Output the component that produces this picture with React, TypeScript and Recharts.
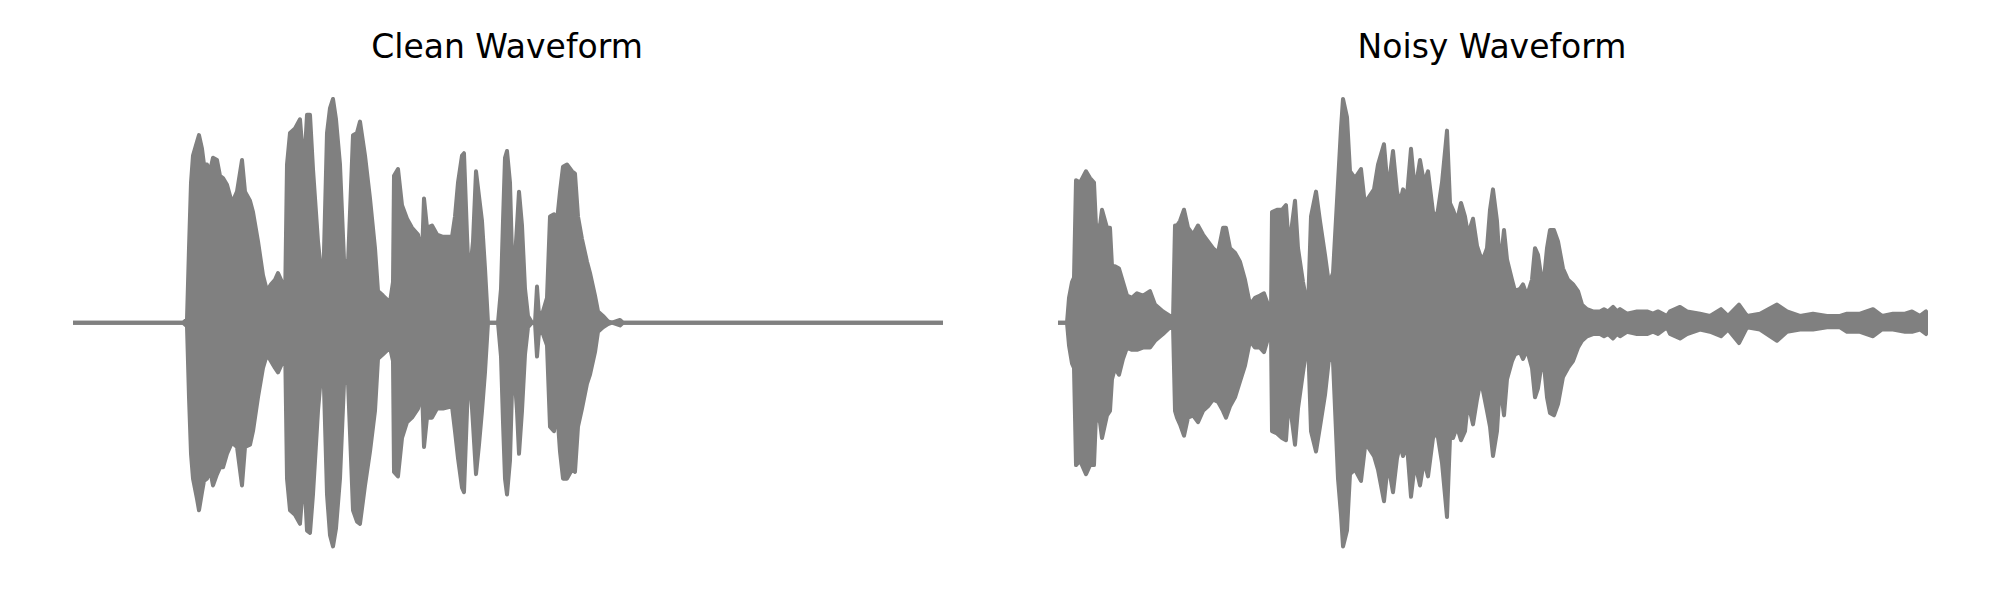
import React from 'react';
import { AreaChart, Area, XAxis, YAxis } from 'recharts';

// time index (frames) and envelope (normalized amplitude)
const cleanTime = [0,110,114,116,118,120,124,126,129,131,134,137,140,144,147,150,154,159,164,169,172,177,180,185,190,194,198,202,205,209,212,214,217,222,227,231,234,237,240,245,250,254,257,260,263,267,271,275,280,284,287,292,297,302,305,310,317,320,321,325,329,334,339,345,349,351,354,359,364,370,379,382,385,389,391,394,396,400,403,406,409,412,415,425,428,430,432,434,437,440,444,446,449,452,455,459,462,464,466,470,474,477,481,484,487,490,494,499,502,505,509,514,517,522,525,530,535,539,547,550,870];
const cleanUpper = [0,0,0.015,0.33,0.62,0.74,0.8,0.83,0.77,0.7,0.7,0.67,0.73,0.72,0.65,0.64,0.61,0.53,0.58,0.72,0.58,0.54,0.49,0.36,0.21,0.14,0.17,0.19,0.22,0.18,0.08,0.7,0.84,0.86,0.9,0.68,0.92,0.92,0.68,0.36,0.14,0.84,0.95,0.99,0.9,0.7,0.28,0.26,0.83,0.84,0.89,0.74,0.55,0.33,0.14,0.12,0.09,0.18,0.65,0.68,0.52,0.46,0.42,0.39,0.3,0.55,0.42,0.43,0.39,0.38,0.38,0.47,0.62,0.74,0.75,0.39,0.18,0.36,0.67,0.56,0.45,0.24,0,0,0.15,0.45,0.73,0.76,0.62,0.14,0.43,0.58,0.43,0.15,0.03,0,0,0.16,0.03,0.05,0.11,0.47,0.48,0.45,0.58,0.69,0.7,0.67,0.66,0.47,0.37,0.27,0.22,0.12,0.05,0.03,0.006,0,0.012,0,0];
const cleanLower = [0,0,-0.016,-0.33,-0.58,-0.69,-0.78,-0.83,-0.75,-0.7,-0.69,-0.65,-0.72,-0.67,-0.64,-0.64,-0.58,-0.53,-0.55,-0.72,-0.55,-0.54,-0.48,-0.33,-0.2,-0.14,-0.17,-0.2,-0.22,-0.18,-0.07,-0.69,-0.83,-0.85,-0.89,-0.66,-0.92,-0.93,-0.76,-0.39,-0.13,-0.76,-0.94,-0.99,-0.91,-0.69,-0.27,-0.26,-0.83,-0.88,-0.89,-0.72,-0.57,-0.39,-0.16,-0.14,-0.11,-0.17,-0.66,-0.68,-0.51,-0.44,-0.42,-0.38,-0.3,-0.55,-0.42,-0.42,-0.38,-0.38,-0.37,-0.48,-0.6,-0.73,-0.75,-0.39,-0.17,-0.45,-0.67,-0.54,-0.39,-0.22,0,0,-0.15,-0.44,-0.69,-0.76,-0.61,-0.14,-0.39,-0.58,-0.39,-0.14,-0.02,0,0,-0.15,-0.04,-0.05,-0.1,-0.46,-0.48,-0.38,-0.57,-0.69,-0.69,-0.65,-0.66,-0.46,-0.38,-0.27,-0.23,-0.13,-0.04,-0.02,-0.006,0,-0.012,0,0];

const noisyTime = [0,9,11,14,16,18,22,28,32,36,38,42,44,49,52,54,57,61,65,69,74,79,85,92,97,105,112,115,117,119,122,126,130,135,140,145,150,155,160,165,168,172,177,182,187,192,197,202,206,210,213,214,219,224,228,231,237,240,245,250,253,258,262,267,271,275,280,283,285,289,292,297,303,307,310,316,320,326,330,335,339,342,345,349,353,357,362,366,370,375,379,384,389,392,395,399,403,407,410,415,419,422,425,429,432,435,439,442,446,449,454,457,462,465,469,474,477,480,485,489,492,496,500,505,510,515,520,524,529,535,542,546,550,555,559,562,569,579,589,595,600,609,612,622,629,642,652,663,670,681,689,702,719,729,742,755,769,782,789,802,815,824,835,847,854,862,868,870];
const noisyUpper = [0,0,0.11,0.18,0.2,0.63,0.62,0.67,0.64,0.62,0.43,0.43,0.5,0.42,0.42,0.25,0.25,0.24,0.18,0.12,0.11,0.13,0.12,0.14,0.08,0.05,0.03,0.01,0.43,0.43,0.45,0.5,0.42,0.39,0.43,0.39,0.36,0.33,0.31,0.42,0.42,0.33,0.31,0.27,0.19,0.08,0.11,0.12,0.13,0.08,0.05,0.49,0.5,0.5,0.52,0.33,0.54,0.33,0.18,0.06,0.47,0.58,0.45,0.3,0.17,0.22,0.62,0.86,0.99,0.91,0.67,0.64,0.68,0.52,0.55,0.59,0.7,0.79,0.58,0.76,0.58,0.53,0.59,0.56,0.77,0.58,0.72,0.62,0.67,0.49,0.47,0.62,0.85,0.53,0.5,0.45,0.53,0.47,0.39,0.46,0.34,0.3,0.28,0.33,0.5,0.59,0.45,0.24,0.41,0.28,0.19,0.14,0.15,0.17,0.12,0.19,0.33,0.3,0.15,0.33,0.41,0.41,0.36,0.24,0.19,0.17,0.14,0.08,0.06,0.05,0.05,0.06,0.05,0.07,0.05,0.06,0.04,0.05,0.05,0.04,0.05,0.03,0.05,0.07,0.05,0.04,0.03,0.06,0.03,0.08,0.03,0.04,0.08,0.05,0.03,0.04,0.03,0.03,0.04,0.04,0.06,0.03,0.04,0.04,0.05,0.03,0.05,0.02];
const noisyLower = [0,0,-0.1,-0.18,-0.2,-0.63,-0.61,-0.67,-0.63,-0.63,-0.41,-0.44,-0.51,-0.41,-0.39,-0.25,-0.2,-0.23,-0.16,-0.11,-0.12,-0.12,-0.11,-0.11,-0.08,-0.05,-0.02,-0.01,-0.39,-0.42,-0.45,-0.5,-0.42,-0.41,-0.44,-0.39,-0.37,-0.34,-0.35,-0.39,-0.42,-0.37,-0.33,-0.26,-0.19,-0.08,-0.11,-0.11,-0.13,-0.07,-0.05,-0.48,-0.49,-0.51,-0.52,-0.33,-0.54,-0.38,-0.22,-0.07,-0.48,-0.57,-0.46,-0.32,-0.16,-0.17,-0.69,-0.85,-0.99,-0.92,-0.67,-0.65,-0.7,-0.55,-0.55,-0.59,-0.65,-0.79,-0.62,-0.75,-0.6,-0.54,-0.59,-0.54,-0.77,-0.62,-0.72,-0.61,-0.68,-0.51,-0.48,-0.62,-0.86,-0.51,-0.51,-0.46,-0.52,-0.48,-0.35,-0.45,-0.34,-0.27,-0.3,-0.39,-0.46,-0.59,-0.48,-0.27,-0.41,-0.25,-0.17,-0.14,-0.13,-0.16,-0.12,-0.2,-0.33,-0.29,-0.14,-0.33,-0.4,-0.41,-0.36,-0.24,-0.2,-0.17,-0.11,-0.08,-0.06,-0.05,-0.05,-0.06,-0.05,-0.07,-0.05,-0.06,-0.04,-0.05,-0.05,-0.04,-0.05,-0.02,-0.05,-0.07,-0.05,-0.03,-0.04,-0.06,-0.03,-0.09,-0.02,-0.03,-0.08,-0.04,-0.03,-0.03,-0.02,-0.02,-0.04,-0.04,-0.06,-0.03,-0.03,-0.04,-0.04,-0.03,-0.05,-0.01];

const panelTitles = ['Clean Waveform', 'Noisy Waveform'];

const GRAY = '#808080';

function Panel(props: { time: number[]; upper: number[]; lower: number[]; left: number; marginLeft: number; marginRight: number }) {
  const { time, upper, lower, left, marginLeft, marginRight } = props;
  const data = time.map((t, i) => ({ t, env: [lower[i], upper[i]] }));
  return (
    <div style={{ position: 'absolute', left, top: 0, width: 1000, height: 600 }}>
      <AreaChart width={1000} height={600} data={data} margin={{ top: 0, bottom: 0, left: marginLeft, right: marginRight }}>
        <XAxis type="number" dataKey="t" domain={[0, 870]} hide allowDataOverflow />
        <YAxis type="number" domain={[-1.227, 1.428]} hide allowDataOverflow />
        <Area
          type="linear"
          dataKey="env"
          stroke={GRAY}
          strokeWidth={4}
          strokeLinejoin="round"
          strokeLinecap="round"
          fill={GRAY}
          fillOpacity={1}
          dot={false}
          activeDot={false}
          isAnimationActive={false}
        />
      </AreaChart>
    </div>
  );
}

export default function App() {
  return (
    <div style={{ position: 'absolute', left: 0, top: 0, width: 2000, height: 600, background: '#ffffff' }}>
      <Panel time={cleanTime} upper={cleanUpper} lower={cleanLower} left={0} marginLeft={73} marginRight={57} />
      <Panel time={noisyTime} upper={noisyUpper} lower={noisyLower} left={1000} marginLeft={58} marginRight={72} />
      <svg width={2000} height={600} style={{ position: 'absolute', left: 0, top: 0, pointerEvents: 'none' }}>
        <text x={507} y={58} textAnchor="middle" fontFamily="DejaVu Sans" fontSize={33} fill="#000">{panelTitles[0]}</text>
        <text x={1492} y={58} textAnchor="middle" fontFamily="DejaVu Sans" fontSize={33} fill="#000">{panelTitles[1]}</text>
      </svg>
    </div>
  );
}
